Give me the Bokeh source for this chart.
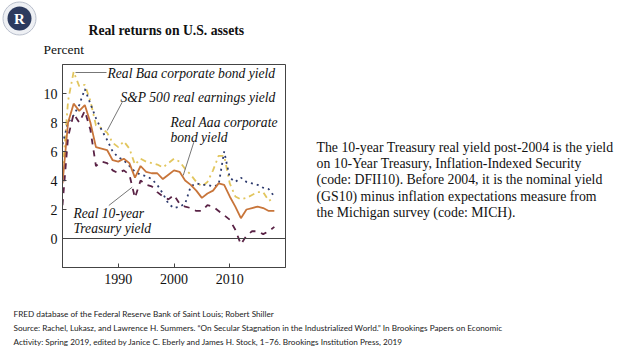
from bokeh.plotting import figure
from bokeh.models import Label, Span, Range1d, FixedTicker, ColumnDataSource
from bokeh.layouts import column, row
from bokeh.core.properties import value
from bokeh.embed import file_html
from bokeh.resources import INLINE

years = list(range(1980, 2019))
baa = [4.5, 9.5, 11.5, 10.5, 10.6, 9.5, 7.8, 7.6, 7.3, 6.6, 6.3, 6.7, 6.2, 5.1, 5.5, 5.3, 5.2, 5.1, 4.9, 5.2, 5.5, 5.3, 4.8, 4.4,
       3.9, 3.6, 3.9, 4.7, 5.7, 5.7, 3.8, 2.9, 2.7, 2.8, 3.0, 3.2, 3.2, 2.6, 2.8]
sp500 = [6.5, 8.0, 8.5, 9.2, 10.3, 9.3, 8.3, 7.5, 6.8, 6.0, 5.6, 5.4, 5.0, 4.6, 4.4, 4.3, 4.1, 3.7, 3.1, 2.4, 2.1, 2.2, 2.4, 3.6,
         3.8, 3.7, 3.7, 3.6, 3.7, 6.0, 4.2, 3.9, 4.2, 3.9, 3.8, 3.7, 3.5, 3.4, 2.9]
aaa = [3.8, 8.0, 9.3, 8.8, 9.2, 8.0, 6.3, 6.2, 6.1, 5.4, 5.3, 5.5, 5.2, 4.2, 5.0, 4.6, 4.5, 4.5, 4.1, 4.4, 4.7, 4.6, 4.0, 3.7,
       3.3, 2.8, 3.1, 3.3, 3.8, 3.7, 2.9, 2.2, 1.4, 2.0, 2.1, 2.2, 2.1, 1.9, 1.9]
tsy10 = [2.3, 7.0, 8.6, 8.0, 8.8, 7.5, 5.0, 5.3, 5.2, 4.7, 4.5, 4.7, 4.4, 2.8, 4.0, 3.7, 3.6, 3.2, 2.9, 2.7, 3.0, 2.4, 2.2, 2.1,
         1.9, 1.9, 2.3, 2.2, 1.9, 1.6, 1.3, 0.6, -0.4, 0.2, 0.5, 0.5, 0.3, 0.5, 0.8]

x_ticks = [1990, 2000, 2010]
y_ticks = [0, 2, 4, 6, 8, 10]

title_text = "Real returns on U.S. assets"
y_unit = "Percent"
label_baa = "Real Baa corporate bond yield"
label_sp = "S&P 500 real earnings yield"
label_aaa = ["Real Aaa corporate", "bond yield"]
label_tsy = ["Real 10-year", "Treasury yield"]
note_lines = [
    "The 10-year Treasury real yield post-2004 is the yield",
    "on 10-Year Treasury, Inflation-Indexed Security",
    "(code: DFII10). Before 2004, it is the nominal yield",
    "(GS10) minus inflation expectations measure from",
    "the Michigan survey (code: MICH).",
]
source_lines = [
    "FRED database of the Federal Reserve Bank of Saint Louis; Robert Shiller",
    "Source: Rachel, Lukasz, and Lawrence H. Summers. \u201cOn Secular Stagnation in the Industrialized World.\u201d In Brookings Papers on Economic",
    "Activity: Spring 2019, edited by Janice C. Eberly and James H. Stock, 1\u201376. Brookings Institution Press, 2019",
]

SERIF = "Liberation Serif"
TOTAL_W = 632
TOP_H = 58          # page rows 0..58
MID_H = 242         # page rows 58..300
BOT_H = 52          # page rows 300..352
CHART_W = 300

FL, FR, FT, FB = 62, 285, 64, 267   # page pixel frame of the chart
X0, X1, Y0, Y1 = 1980, 2020, -2, 12
BT = FT - TOP_H
BB = MID_H - (FB - TOP_H)


def canvas(w, h, x0, y0, bt=0, bb=0):
    f = figure(width=w, height=h, output_backend="svg", toolbar_location=None,
               x_range=Range1d(x0, x0 + w), y_range=Range1d(y0 + h - bb, y0 + bt),
               min_border=0, min_border_left=0, min_border_right=0, min_border_top=bt, min_border_bottom=bb)
    f.axis.visible = False
    f.grid.visible = False
    f.outline_line_color = None
    f.background_fill_color = "white"
    f.border_fill_color = "white"
    return f


# ---------- top strip: logo, title, unit ----------
top = canvas(TOTAL_W, TOP_H, 0, 0)
top.scatter([19], [18], size=33, marker="circle", fill_color="#eef0f4", line_color="#b9bfcc", line_width=1)
top.scatter([19], [18], size=24, marker="circle", fill_color="#2c3a5e", line_color=None)
top.text([19], [18.5], text=["R"], text_font=value(SERIF), text_font_size="15px", text_font_style="bold",
         text_color="white", text_align="center", text_baseline="middle")
top.text([88], [30], text=[title_text], text_font=value(SERIF), text_font_size="13.7px", text_font_style="bold",
         text_color="#111111", text_align="left", text_baseline="middle")
top.text([43], [49], text=[y_unit], text_font=value(SERIF), text_font_size="13.5px",
         text_color="#111111", text_align="left", text_baseline="middle")


# ---------- chart ----------
def dx(px):
    return X0 + (px - FL) * (X1 - X0) / (FR - FL)


def dy(py):
    return Y0 + (FB - py) * (Y1 - Y0) / (FB - FT)


p = figure(width=CHART_W, height=MID_H, output_backend="svg", toolbar_location=None,
           x_range=Range1d(X0, X1), y_range=Range1d(Y0, Y1),
           min_border_left=FL, min_border_right=CHART_W - FR,
           min_border_top=BT, min_border_bottom=BB)
p.grid.visible = False
p.outline_line_color = "#444444"
p.background_fill_color = "white"
p.border_fill_color = "white"
for ax in (p.xaxis[0], p.yaxis[0]):
    ax.major_tick_in = 4
    ax.major_tick_out = 0
    ax.minor_tick_line_color = None
    ax.axis_line_color = "#444444"
    ax.major_tick_line_color = "#444444"
    ax.major_label_text_font = SERIF
    ax.major_label_text_font_size = "14px"
    ax.major_label_text_color = "#111111"
p.xaxis[0].ticker = FixedTicker(ticks=x_ticks)
p.yaxis[0].ticker = FixedTicker(ticks=y_ticks)
p.xaxis[0].major_label_standoff = 6
p.yaxis[0].major_label_standoff = 5

p.add_layout(Span(location=0, dimension="width", line_color="#444444", line_width=1))

p.line(years, baa, line_color="#e2c65e", line_width=1.8, line_dash="dashdot")
p.line(years, sp500, line_color="#2e3b6e", line_width=1.8, line_dash="dotted")
p.line(years, aaa, line_color="#c8753a", line_width=1.8)
p.line(years, tsy10, line_color="#5a2346", line_width=1.8, line_dash="dashed")

lead = ColumnDataSource(dict(
    x0=[dx(75), dx(121.7), dx(193.3), dx(108.3)],
    y0=[dy(72), dy(101.7), dy(141.7), dy(205)],
    x1=[dx(106), dx(106.7), dx(182.7), dx(131.7)],
    y1=[dy(72), dy(130), dy(175), dy(186.7)],
))
p.segment("x0", "y0", "x1", "y1", source=lead, line_color="#777777", line_width=1)


def lab(text, px, py):
    p.add_layout(Label(x=dx(px), y=dy(py), text=text, text_font=SERIF, text_font_size="13.6px",
                       text_font_style="italic", text_color="#111111", text_align="left", text_baseline="middle"))


lab(label_baa, 107, 73)
lab(label_sp, 120, 97)
lab(label_aaa[0], 170, 122)
lab(label_aaa[1], 170, 137)
lab(label_tsy[0], 73, 213)
lab(label_tsy[1], 73, 228)

# ---------- notes on the right (frame aligned with the chart's frame) ----------
notes = canvas(TOTAL_W - CHART_W, MID_H, CHART_W, TOP_H, bt=BT, bb=BB)
notes.text([316] * len(note_lines), [147 + i * 16.2 for i in range(len(note_lines))], text=note_lines,
           text_font=value(SERIF), text_font_size="13.8px", text_color="#111111",
           text_align="left", text_baseline="middle")

# ---------- sources at the bottom ----------
src = canvas(TOTAL_W, BOT_H, 0, TOP_H + MID_H)
src.text([13] * len(source_lines), [313 + i * 14 for i in range(len(source_lines))], text=source_lines,
         text_font=value("Lato"), text_font_size="8.2px", text_color="#222222",
         text_align="left", text_baseline="middle")

layout = column(top, row(p, notes, spacing=0), src, spacing=0)
open("out.html", "w").write(file_html(layout, INLINE))
